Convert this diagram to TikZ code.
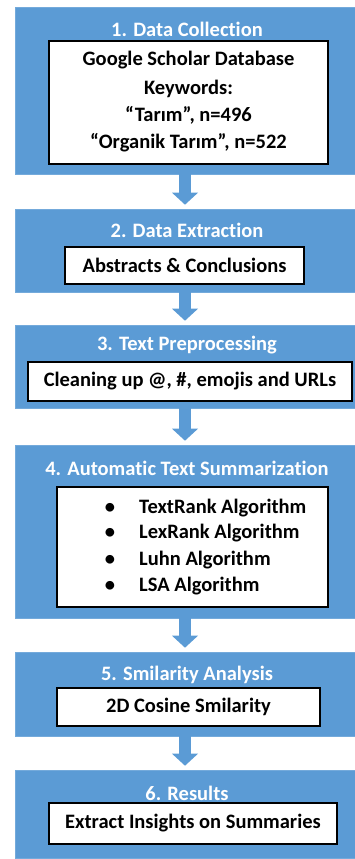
\documentclass[tikz,border=0pt]{standalone}
\usepackage{fontspec}
\setmainfont{Carlito}[Ligatures=NoCommon]
\usetikzlibrary{arrows.meta}
\definecolor{stepblue}{HTML}{5B9BD5}
\tikzset{
  bluebox/.style={fill=stepblue,draw=stepblue!85!white,line width=0.6pt,minimum width=340pt,inner sep=0pt},
  whitebox/.style={fill=white,draw=black,line width=1.3pt,inner sep=0pt},
  steptitle/.style={text=white,font=\fontsize{20.5}{24}\selectfont\bfseries},
  boxtext/.style={text=black,font=\fontsize{20.5}{24}\selectfont\bfseries},
  flowarrow/.style={stepblue,line width=12pt,shorten >=4pt,-{Triangle[width=26pt,length=12pt,line width=0pt]}}
}
\begin{document}
\begin{tikzpicture}[line cap=butt,line join=miter,x=1pt,y=-1pt]
		\useasboundingbox (0,0) rectangle (355,859);
		% blue step boxes
		\node[bluebox,minimum height=167pt] (b1) at (185,90.5) {};
		\node[bluebox,minimum height=83pt] (b2) at (185,250.5) {};
		\node[bluebox,minimum height=83pt] (b3) at (185,366.5) {};
		\node[bluebox,minimum height=173pt] (b4) at (185,531.5) {};
		\node[bluebox,minimum height=84pt] (b5) at (185,694) {};
		\node[bluebox,minimum height=88pt] (b6) at (185,814) {};
		% arrows
		\draw[flowarrow] (b1.south) -- (b2.north);
		\draw[flowarrow] (b2.south) -- (b3.north);
		\draw[flowarrow] (b3.south) -- (b4.north);
		\draw[flowarrow] (b4.south) -- (b5.north);
		\draw[flowarrow] (b5.south) -- (b6.north);
		% titles
		\node[steptitle] (t1) at (187,29) {1. Data Collection};
		\node[steptitle] (t2) at (187,230) {2. Data Extraction};
		\node[steptitle] (t3) at (187,345) {3. Text Preprocessing};
		\node[steptitle] (t4) at (187,468) {4. Automatic Text Summarization};
		\node[steptitle] (t5) at (187,675) {5. Smilarity Analysis};
		\node[steptitle] (t6) at (187,793) {6. Results};
		% white boxes
		\node[whitebox,minimum width=279pt,minimum height=123pt] (w1) at (188.5,102.5) {};
		\node[whitebox,minimum width=239pt,minimum height=37pt] (w2) at (184.5,265.5) {};
		\node[whitebox,minimum width=324pt,minimum height=39pt] (w3) at (190,381.5) {};
		\node[whitebox,minimum width=271pt,minimum height=120pt] (w4) at (192.5,547) {};
		\node[whitebox,minimum width=263pt,minimum height=38pt] (w5) at (188.5,707) {};
		\node[whitebox,minimum width=288pt,minimum height=41pt] (w6) at (193,823.5) {};
		% texts
		\node[boxtext] (g1) at (188.5,60) {Google Scholar Database};
		\node[boxtext] (g2) at (188.5,89) {Keywords:};
		\node[boxtext] (g3) at (188.5,115) {“Tarım”, n=496};
		\node[boxtext] (g4) at (188.5,143) {“Organik Tarım”, n=522};
		\node[boxtext] (x2) at (w2) {Abstracts \& Conclusions};
		\node[boxtext] (x3) at (w3) {Cleaning up @, \#, emojis and URLs};
		\foreach \y/\txt [count=\i] in {508/TextRank Algorithm,533/LexRank Algorithm,560/Luhn Algorithm,586/LSA Algorithm}{
			\node[boxtext] (d\i) at (110,\y) {•};
			\node[boxtext,anchor=west,inner xsep=0pt] (a\i) at (139,\y) {\txt};
		}
		\node[boxtext] (x5) at (w5) {2D Cosine Smilarity};
		\node[boxtext] (x6) at (w6) {Extract Insights on Summaries};
	\end{tikzpicture}
\end{document}
